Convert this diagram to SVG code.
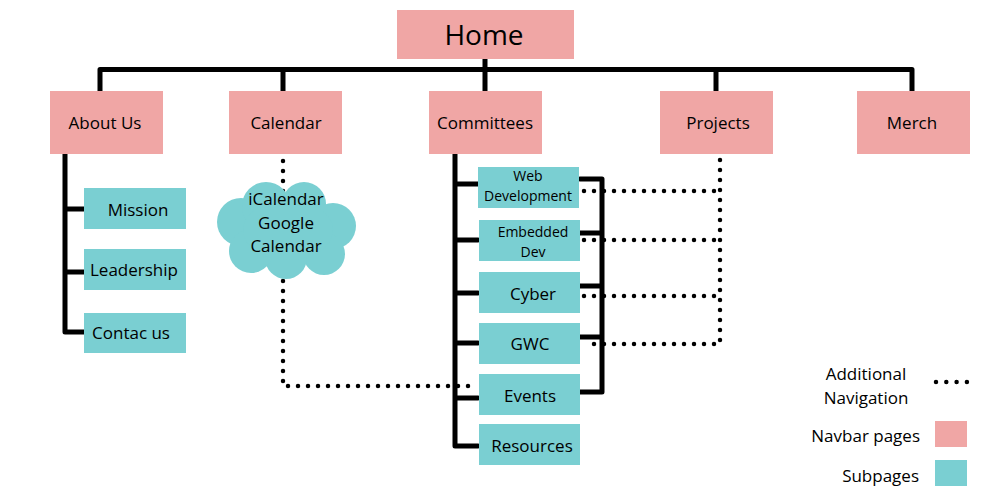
<svg xmlns="http://www.w3.org/2000/svg" width="1000" height="500" viewBox="0 0 1000 500">
<style>
.nav{fill:#F0A6A5}
.sub{fill:#7ACFD2}
text{font-family:"Open Sans","Noto Sans","DejaVu Sans",sans-serif;fill:#000;text-anchor:middle}
.t17{font-size:17px}
.t14{font-size:14px}
.solid{fill:none;stroke:#000;stroke-width:5;stroke-linecap:round;stroke-linejoin:round}
.dot{fill:none;stroke:#000;stroke-width:4.5;stroke-linecap:round;stroke-dasharray:0 10}
</style>
<rect width="1000" height="500" fill="#fff"/>
<g id="connectors">
<path class="solid" d="M100,91 V69.5 H912 V91 M283,69.5 V91 M485,59 V91 M716,69.5 V91"/>
<path class="solid" d="M65,154 V332 H84 M65,209 H84 M65,272 H84"/>
<path class="solid" d="M455,154 V446 H478 M455,184 H478 M455,240 H478 M455,293 H478 M455,343 H478 M455,398 H478"/>
<path class="solid" d="M580,179 H602 V392 H580 M580,233 H602 M580,286 H602 M580,337 H602"/>
<path class="dot" d="M720,160 V344 H584"/>
<path class="dot" d="M584,191 H720 M584,240 H720 M584,296 H720"/>
<path class="dot" d="M283,161 V386 H470"/>
</g>
<g id="home"><rect class="nav" x="397" y="10" width="177" height="49"/><text x="484" y="45" style="font-size:28px">Home</text></g>
<g id="about"><rect class="nav" x="50" y="91" width="113" height="63"/><text class="t17" x="105" y="129">About Us</text></g>
<g id="calendar"><rect class="nav" x="229" y="91" width="113" height="63"/><text class="t17" x="286" y="129">Calendar</text></g>
<g id="committees"><rect class="nav" x="429" y="91" width="113" height="63"/><text class="t17" x="485" y="129">Committees</text></g>
<g id="projects"><rect class="nav" x="660" y="91" width="113" height="63"/><text class="t17" x="718" y="129">Projects</text></g>
<g id="merch"><rect class="nav" x="857" y="91" width="113" height="63"/><text class="t17" x="912" y="129">Merch</text></g>
<g id="mission"><rect class="sub" x="84" y="188" width="102" height="41"/><text class="t17" x="138" y="216">Mission</text></g>
<g id="leadership"><rect class="sub" x="84" y="249" width="102" height="41"/><text class="t17" x="134" y="276">Leadership</text></g>
<g id="contact"><rect class="sub" x="84" y="313" width="102" height="40"/><text class="t17" x="131" y="339">Contac us</text></g>
<g id="cloud">
<g class="sub">
<circle cx="241" cy="222" r="24"/>
<circle cx="266" cy="206" r="24"/>
<circle cx="304" cy="204" r="22"/>
<circle cx="333" cy="226" r="23"/>
<circle cx="324" cy="254" r="21"/>
<circle cx="286" cy="258" r="21"/>
<circle cx="251" cy="251" r="22"/>
<ellipse cx="288" cy="230" rx="45" ry="30"/>
</g>
<text class="t17" x="286" y="205">iCalendar</text>
<text class="t17" x="286" y="229">Google</text>
<text class="t17" x="286" y="252">Calendar</text>
</g>
<g id="webdev"><rect class="sub" x="478" y="167" width="101" height="41"/><text class="t14" x="528" y="181">Web</text><text class="t14" x="528" y="201">Development</text></g>
<g id="embedded"><rect class="sub" x="479" y="220" width="101" height="41"/><text class="t14" x="533" y="237">Embedded</text><text class="t14" x="533" y="257">Dev</text></g>
<g id="cyber"><rect class="sub" x="479" y="272" width="101" height="41"/><text class="t17" x="533" y="300">Cyber</text></g>
<g id="gwc"><rect class="sub" x="479" y="323" width="101" height="41"/><text class="t17" x="530" y="350">GWC</text></g>
<g id="events"><rect class="sub" x="479" y="374" width="101" height="41"/><text class="t17" x="530" y="402">Events</text></g>
<g id="resources"><rect class="sub" x="479" y="424" width="101" height="41"/><text class="t17" x="532" y="452">Resources</text></g>
<g id="legend">
<text class="t17" x="866" y="380">Additional</text>
<text class="t17" x="866" y="404">Navigation</text>
<path class="dot" d="M936,382 H967" style="stroke-dasharray:0 10.3"/>
<text class="t17" x="920" y="442" style="text-anchor:end">Navbar pages</text>
<rect class="nav" x="935" y="421" width="32" height="26"/>
<text class="t17" x="919" y="482" style="text-anchor:end">Subpages</text>
<rect class="sub" x="935" y="460" width="32" height="26"/>
</g>
</svg>
